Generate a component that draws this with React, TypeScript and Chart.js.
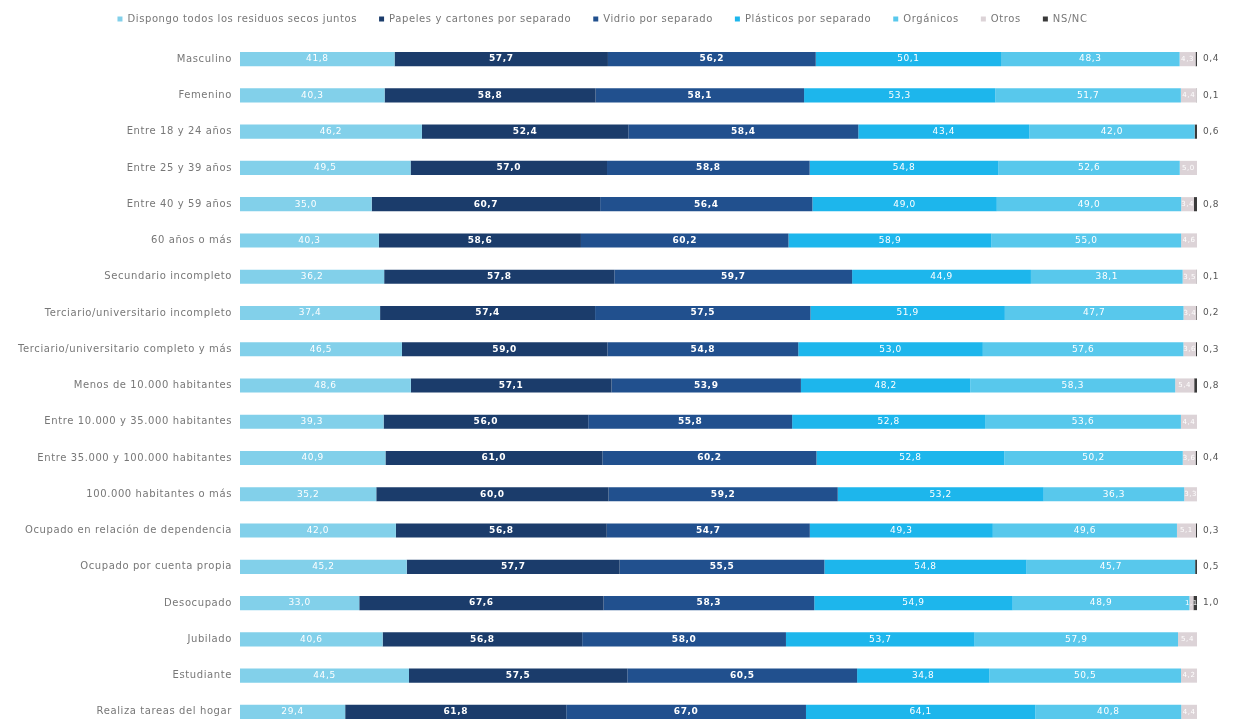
import React, { useEffect, useRef } from "react";
import { Chart, registerables } from "chart.js";

Chart.register(...registerables);

const categories = [
  "Masculino",
  "Femenino",
  "Entre 18 y 24 años",
  "Entre 25 y 39 años",
  "Entre 40 y 59 años",
  "60 años o más",
  "Secundario incompleto",
  "Terciario/universitario incompleto",
  "Terciario/universitario completo y más",
  "Menos de 10.000 habitantes",
  "Entre 10.000 y 35.000 habitantes",
  "Entre 35.000 y 100.000 habitantes",
  "100.000 habitantes o más",
  "Ocupado en relación de dependencia",
  "Ocupado por cuenta propia",
  "Desocupado",
  "Jubilado",
  "Estudiante",
  "Realiza tareas del hogar",
];

const seriesNames = [
  "Dispongo todos los residuos secos juntos",
  "Papeles y cartones por separado",
  "Vidrio por separado",
  "Plásticos por separado",
  "Orgánicos",
  "Otros",
  "NS/NC",
];

const dispongo = [41.8, 40.3, 46.2, 49.5, 35.0, 40.3, 36.2, 37.4, 46.5, 48.6, 39.3, 40.9, 35.2, 42.0, 45.2, 33.0, 40.6, 44.5, 29.4];
const papeles = [57.7, 58.8, 52.4, 57.0, 60.7, 58.6, 57.8, 57.4, 59.0, 57.1, 56.0, 61.0, 60.0, 56.8, 57.7, 67.6, 56.8, 57.5, 61.8];
const vidrio = [56.2, 58.1, 58.4, 58.8, 56.4, 60.2, 59.7, 57.5, 54.8, 53.9, 55.8, 60.2, 59.2, 54.7, 55.5, 58.3, 58.0, 60.5, 67.0];
const plasticos = [50.1, 53.3, 43.4, 54.8, 49.0, 58.9, 44.9, 51.9, 53.0, 48.2, 52.8, 52.8, 53.2, 49.3, 54.8, 54.9, 53.7, 34.8, 64.1];
const organicos = [48.3, 51.7, 42.0, 52.6, 49.0, 55.0, 38.1, 47.7, 57.6, 58.3, 53.6, 50.2, 36.3, 49.6, 45.7, 48.9, 57.9, 50.5, 40.8];
const otros = [4.3, 4.4, 0, 5.0, 3.4, 4.6, 3.5, 3.4, 3.6, 5.4, 4.4, 3.6, 3.3, 5.1, 0, 1.1, 5.4, 4.2, 4.4];
const nsnc = [0.4, 0.1, 0.6, 0, 0.8, 0, 0.1, 0.2, 0.3, 0.8, 0, 0.4, 0, 0.3, 0.5, 1.0, 0, 0, 0];

const colors = ["#82d0ea", "#1b3c6b", "#21508e", "#1db6ec", "#58c8ec", "#dcd3d7", "#3a3a3a"];

const rawSeries = [dispongo, papeles, vidrio, plasticos, organicos, otros, nsnc];

const fmt = (v: number) => v.toFixed(1).replace(".", ",");

const FONT = "'DejaVu Sans'";
const SPACING = "0.6px";

const spacingPlugin = {
  id: "letterSpacing",
  beforeLayout(chart: any) {
    chart.ctx.letterSpacing = SPACING;
  },
  beforeDraw(chart: any) {
    chart.ctx.letterSpacing = SPACING;
  },
};

const labelPlugin = {
  id: "valueLabels",
  afterDatasetsDraw(chart: any) {
    const ctx = chart.ctx;
    ctx.save();
    chart.data.datasets.forEach((ds: any, di: number) => {
      const meta = chart.getDatasetMeta(di);
      if (meta.hidden) return;
      meta.data.forEach((bar: any, i: number) => {
        const v = rawSeries[di][i];
        if (!v) return;
        const { x, y, base } = bar.getProps(["x", "y", "base"], true);
        ctx.textBaseline = "middle";
        if (di === 6) {
          ctx.font = `9px ${FONT}`;
          ctx.fillStyle = "#555";
          ctx.textAlign = "left";
          ctx.fillText(fmt(v), x + 6, y);
        } else if (di === 5) {
          ctx.font = `7px ${FONT}`;
          ctx.fillStyle = "#ffffff";
          ctx.textAlign = "center";
          ctx.fillText(fmt(v), (x + base) / 2, y);
        } else {
          ctx.font = (di === 1 || di === 2 ? "bold " : "") + `9px ${FONT}`;
          ctx.fillStyle = "#ffffff";
          ctx.textAlign = "center";
          ctx.fillText(fmt(v), (x + base) / 2, y);
        }
      });
    });
    ctx.restore();
  },
};

export default function App() {
  const ref = useRef<HTMLCanvasElement>(null);
  useEffect(() => {
    if (!ref.current) return;
    const totals = categories.map((_, i) => rawSeries.reduce((s, arr) => s + arr[i], 0));
    const chart = new Chart(ref.current, {
      type: "bar",
      data: {
        labels: categories,
        datasets: seriesNames.map((name, di) => ({
          label: name,
          data: rawSeries[di].map((v, i) => (v / totals[i]) * 100),
          backgroundColor: colors[di],
          borderWidth: 0,
          categoryPercentage: 1,
          barPercentage: 0.39,
        })),
      },
      options: {
        indexAxis: "y",
        animation: false,
        responsive: true,
        maintainAspectRatio: false,
        layout: { padding: { right: 28, top: -16, bottom: 0 } },
        plugins: {
          legend: {
            position: "top",
            labels: {
              boxWidth: 5,
              boxHeight: 5,
              padding: 22,
              color: "#777",
              font: { family: FONT, size: 10 },
            },
          },
          tooltip: { enabled: false },
        },
        scales: {
          x: {
            stacked: true,
            min: 0,
            max: 100,
            position: "top",
            grid: { display: false },
            border: { display: false },
            ticks: { display: false },
            afterFit: (axis: any) => {
              axis.height = 7;
            },
          },
          y: {
            stacked: true,
            grid: { display: false },
            border: { display: false },
            ticks: {
              color: "#777",
              font: { family: FONT, size: 10 },
              padding: 0,
            },
            afterFit: (axis: any) => {
              axis.width = 232;
            },
          },
        },
      },
      plugins: [spacingPlugin, labelPlugin],
    });
    return () => chart.destroy();
  }, []);
  return (
    <div style={{ width: "1217px", height: "728px", position: "relative" }}>
      <canvas ref={ref} />
    </div>
  );
}
